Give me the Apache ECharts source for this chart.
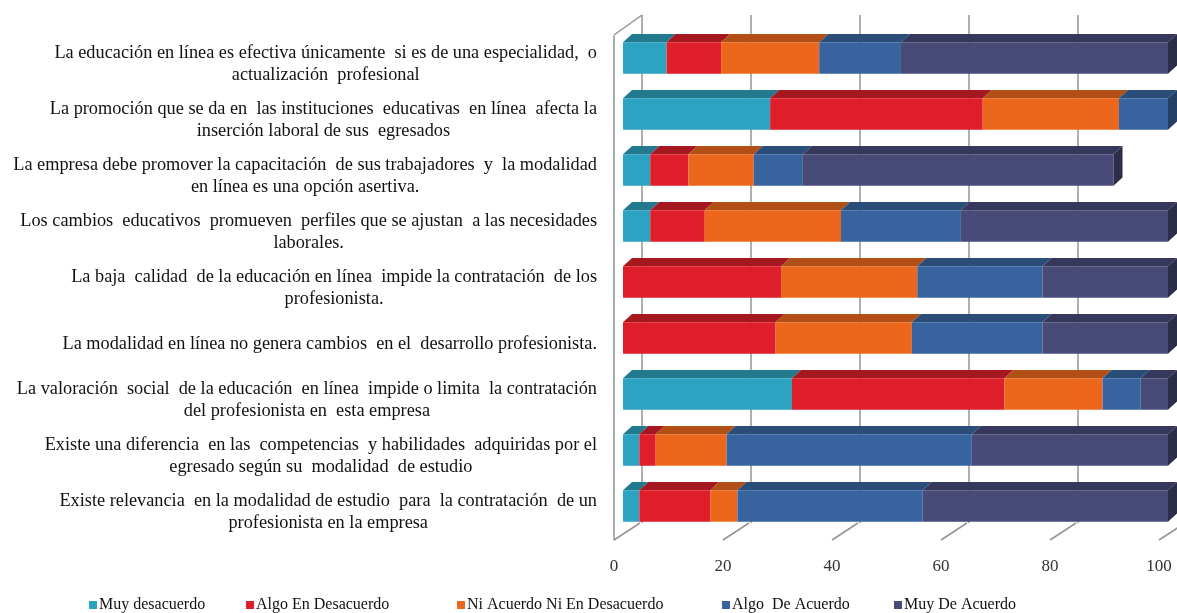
<!DOCTYPE html>
<html>
<head>
<meta charset="utf-8">
<script src="https://cdn.jsdelivr.net/npm/echarts@6/dist/echarts.min.js"></script>
<style>
  html, body { margin: 0; padding: 0; background: #fff; }
  #chart { width: 1177px; height: 613px; }
</style>
</head>
<body>
<div id="chart"></div>
<script>
// Survey statements, listed top to bottom
const categories = [
  ['La educación en línea es efectiva únicamente  si es de una especialidad,  o', 'actualización  profesional'],
  ['La promoción que se da en  las instituciones  educativas  en línea  afecta la', 'inserción laboral de sus  egresados'],
  ['La empresa debe promover la capacitación  de sus trabajadores  y  la modalidad', 'en línea es una opción asertiva.'],
  ['Los cambios  educativos  promueven  perfiles que se ajustan  a las necesidades', 'laborales.'],
  ['La baja  calidad  de la educación en línea  impide la contratación  de los', 'profesionista.'],
  ['La modalidad en línea no genera cambios  en el  desarrollo profesionista.'],
  ['La valoración  social  de la educación  en línea  impide o limita  la contratación', 'del profesionista en  esta empresa'],
  ['Existe una diferencia  en las  competencias  y habilidades  adquiridas por el', 'egresado según su  modalidad  de estudio'],
  ['Existe relevancia  en la modalidad de estudio  para  la contratación  de un', 'profesionista en la empresa']
];

const seriesNames = ['Muy desacuerdo', 'Algo En Desacuerdo', 'Ni Acuerdo Ni En Desacuerdo', 'Algo  De Acuerdo', 'Muy De Acuerdo'];

// Percentages per statement (same order as categories)
const muyDesacuerdo   = [8, 27, 5, 5, 0, 0, 31, 3, 3];
const algoDesacuerdo  = [10, 39, 7, 10, 29, 28, 39, 3, 13];
const niAcuerdo       = [18, 25, 12, 25, 25, 25, 18, 13, 5];
const algoAcuerdo     = [15, 9, 9, 22, 23, 24, 7, 45, 34];
const muyDeAcuerdo    = [49, 0, 57, 38, 23, 23, 5, 36, 45];

const xTicks = [0, 20, 40, 60, 80, 100];

const frontColors = ['#2ca3c0', '#df1e2b', '#ec661b', '#37649e', '#484a78'];
const topColors   = ['#23798e', '#a7171f', '#b24f15', '#2b4d7a', '#36385b'];
const sideColors  = ['#1d6577', '#8a131a', '#923f11', '#233f63', '#2c2d48'];

const values = [muyDesacuerdo, algoDesacuerdo, niAcuerdo, algoAcuerdo, muyDeAcuerdo];

// Legend entry positions along the bottom row
const legendLefts = [84, 241, 452, 717, 889];

// Depth projection of the 3D look (pixels)
const BAR_SHIFT_X = 9;    // bar front face sits behind the floor front edge
const BAR_LIFT = 6;
const TOP_DX = 9, TOP_DY = 8.3;
const WALL_DX = 28, WALL_TOP_DY = 21, WALL_BOTTOM_DY = 17;

// Build stacked segments [start, end, categoryIndex, isLastSegment]
const segData = values.map(() => []);
categories.forEach((_, ci) => {
  let acc = 0;
  let last = -1;
  values.forEach((arr, si) => { if (arr[ci] > 0) last = si; });
  values.forEach((arr, si) => {
    const v = arr[ci];
    if (v > 0) segData[si].push([acc, acc + v, ci, si === last ? 1 : 0]);
    acc += v;
  });
});

function barRenderer(si) {
  return function (params, api) {
    const ci = api.value(2);
    const p0 = api.coord([api.value(0), ci]);
    const p1 = api.coord([api.value(1), ci]);
    const band = api.size([0, 1])[1];
    const h = band * 0.5625;
    const x0 = p0[0] + BAR_SHIFT_X;
    const x1 = p1[0] + BAR_SHIFT_X;
    const yTop = p0[1] - BAR_LIFT - h / 2;
    const yBot = yTop + h;
    const children = [
      {
        type: 'polygon',
        shape: { points: [[x0, yTop], [x1, yTop], [x1 + TOP_DX, yTop - TOP_DY], [x0 + TOP_DX, yTop - TOP_DY]] },
        style: { fill: topColors[si] }
      },
      {
        type: 'rect',
        shape: { x: x0, y: yTop, width: x1 - x0, height: h },
        style: { fill: frontColors[si] }
      }
    ];
    if (api.value(3) === 1) {
      children.push({
        type: 'polygon',
        shape: { points: [[x1, yTop], [x1 + TOP_DX, yTop - TOP_DY], [x1 + TOP_DX, yBot - TOP_DY], [x1, yBot]] },
        style: { fill: sideColors[si] }
      });
    }
    return { type: 'group', children: children };
  };
}

// Back wall gridlines and floor edges
function wallRenderer(params, api) {
  const v = api.value(0);
  const cs = params.coordSys;
  const p = api.coord([v, 0]);
  const x = p[0];
  const yFront = cs.y + cs.height;
  const yBackTop = cs.y - WALL_TOP_DY;
  const yBackBot = yFront - WALL_BOTTOM_DY;
  const lineStyle = { stroke: '#949494', lineWidth: 1.5, fill: null };
  const children = [
    { type: 'line', shape: { x1: x + WALL_DX, y1: yBackTop, x2: x + WALL_DX, y2: yBackBot }, style: lineStyle },
    { type: 'line', shape: { x1: x, y1: yFront, x2: x + WALL_DX - 2, y2: yBackBot }, style: lineStyle }
  ];
  if (v === 0) {
    children.push({ type: 'line', shape: { x1: x, y1: cs.y - 1, x2: x + WALL_DX, y2: yBackTop }, style: lineStyle });
  }
  return { type: 'group', children: children };
}

const serif = '"Liberation Serif", "Times New Roman", serif';

const series = [
  {
    name: 'wall',
    type: 'custom',
    silent: true,
    renderItem: wallRenderer,
    data: xTicks.map(t => [t]),
    encode: { x: 0 },
    z: 1
  }
].concat(seriesNames.map((name, si) => ({
  name: name,
  type: 'custom',
  renderItem: barRenderer(si),
  itemStyle: { color: frontColors[si] },
  data: segData[si],
  encode: { x: [0, 1], y: 2 },
  z: 2
})));

const legends = seriesNames.map((name, si) => ({
  data: [name],
  top: 592,
  left: legendLefts[si],
  itemWidth: 8,
  itemHeight: 8,
  icon: 'rect',
  selectedMode: false,
  textStyle: { fontFamily: serif, fontSize: 16, color: '#111', padding: [0, 0, 0, -3] }
}));

const chart = echarts.init(document.getElementById('chart'));
chart.setOption({
  animation: false,
  backgroundColor: '#ffffff',
  grid: { left: 614, top: 36, width: 545, bottom: 73, containLabel: false },
  xAxis: {
    type: 'value',
    min: 0, max: 100, interval: 20,
    axisLine: { show: false },
    axisTick: { show: false },
    splitLine: { show: false },
    axisLabel: { margin: 18, fontFamily: serif, fontSize: 17, color: '#333' }
  },
  yAxis: {
    type: 'category',
    inverse: true,
    data: categories.map(c => c.join('\n')),
    axisLine: { show: true, lineStyle: { color: '#949494', width: 1.5 } },
    axisTick: { show: false },
    splitLine: { show: false },
    axisLabel: {
      margin: 17,
      align: 'right',
      formatter: function (val) {
        return val.split('\n').map(l => '{c|' + l + '}').join('\n');
      },
      rich: {
        c: { align: 'center', fontFamily: serif, fontSize: 18.3, color: '#111', lineHeight: 22 }
      }
    }
  },
  legend: legends,
  series: series
});
</script>
</body>
</html>
